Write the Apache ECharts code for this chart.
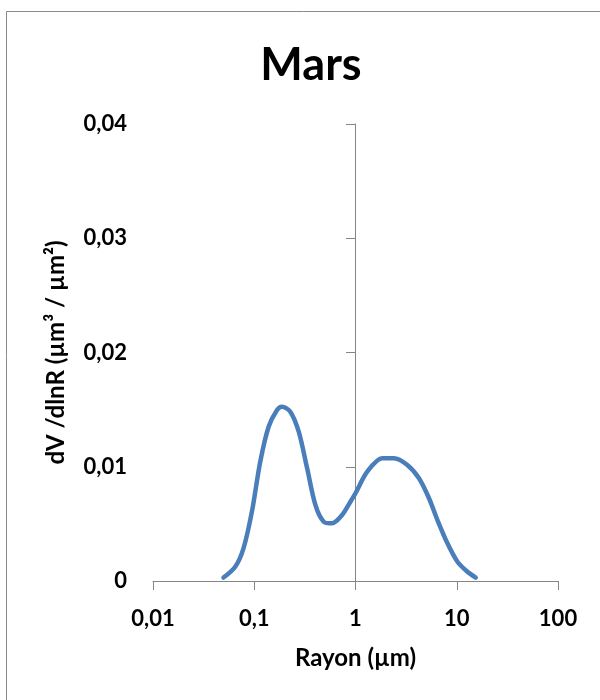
<!DOCTYPE html>
<html><head><meta charset="utf-8">
<script src="https://cdn.jsdelivr.net/npm/echarts@6/dist/echarts.min.js"></script>
<style>html,body{margin:0;padding:0;background:#fff}#c{width:600px;height:700px}</style>
</head><body><div id="c"></div>
<script>
var titleText = 'Mars';
var xName = 'Rayon (µm)';
var yName = 'dV /dlnR (µm³ / µm²)';
var radius = [0.0497, 0.0649, 0.0783, 0.0948, 0.1146, 0.1387, 0.168, 0.188, 0.227, 0.275, 0.333, 0.402, 0.485, 0.587, 0.738, 0.891, 1.0, 1.306, 1.837, 2.394, 3.25, 4.236, 5.32, 6.44, 8.09, 10.16, 12.76, 15.4];
var dvdlnr = [0.0003, 0.00125, 0.00286, 0.00607, 0.01044, 0.0135, 0.01497, 0.01526, 0.01482, 0.01307, 0.00986, 0.00665, 0.00519, 0.00505, 0.00578, 0.00694, 0.00768, 0.00957, 0.01074, 0.01074, 0.01015, 0.00899, 0.00724, 0.00534, 0.0033, 0.00169, 0.00081, 0.0003];

var FONT = 'Lato';
var axisColor = '#868686';
var pts = radius.map(function (r, i) { return [r, dvdlnr[i]]; });
function comma(v) { return String(v).replace('.', ','); }

var chart = echarts.init(document.getElementById('c'));
chart.setOption({
  animation: false,
  backgroundColor: '#fff',
  graphic: [{
    type: 'rect', silent: true, z: -1,
    shape: { x: 6.5, y: 11.5, width: 620, height: 720 },
    style: { fill: 'none', stroke: '#8a8a8a', lineWidth: 1 }
  }],
  title: {
    text: titleText, left: 306, top: 38, textAlign: 'center',
    textStyle: { fontFamily: FONT, fontWeight: 'bold', fontSize: 45, color: '#000' }
  },
  grid: [
    { left: 153, right: 42, top: 124, bottom: 119 },
    { left: 355, right: 42, top: 124, bottom: 119 }
  ],
  xAxis: [{
    type: 'log', logBase: 10, min: 0.01, max: 100, gridIndex: 0,
    name: xName, nameLocation: 'middle', nameGap: 65,
    nameTextStyle: { fontFamily: FONT, fontWeight: 'bold', fontSize: 24, color: '#000' },
    axisLine: { show: true, lineStyle: { color: axisColor, width: 1 } },
    axisTick: { show: true, length: 9, inside: false, lineStyle: { color: axisColor } },
    minorTick: { show: false },
    splitLine: { show: false },
    axisLabel: {
      margin: 27, fontFamily: FONT, fontWeight: 'bold', fontSize: 22, color: '#000',
      formatter: function (v) { return comma(+v.toPrecision(6)); }
    }
  }, {
    type: 'value', gridIndex: 1, show: false, min: 0, max: 1
  }],
  yAxis: [{
    type: 'value', gridIndex: 0, min: 0, max: 0.04, interval: 0.01,
    name: yName, nameLocation: 'middle', nameGap: 85, nameRotate: 90,
    nameTextStyle: { fontFamily: FONT, fontWeight: 'bold', fontSize: 24, color: '#000' },
    axisLine: { show: false },
    axisTick: { show: false },
    splitLine: { show: false },
    axisLabel: {
      margin: 26, fontFamily: FONT, fontWeight: 'bold', fontSize: 22, color: '#000',
      formatter: function (v) { return comma(+v.toFixed(4)); }
    }
  }, {
    type: 'value', gridIndex: 1, min: 0, max: 0.04, interval: 0.01, position: 'left',
    axisLine: { show: true, lineStyle: { color: axisColor, width: 1 } },
    axisTick: { show: true, length: 9, inside: false, lineStyle: { color: axisColor } },
    axisLabel: { show: false },
    splitLine: { show: false }
  }],
  series: [{
    type: 'line', xAxisIndex: 0, yAxisIndex: 0,
    data: pts, smooth: 0.3, showSymbol: false, symbol: 'none',
    lineStyle: { color: '#4a7ebb', width: 4.5, cap: 'round', join: 'round' },
    z: 5
  }]
});
</script></body></html>
